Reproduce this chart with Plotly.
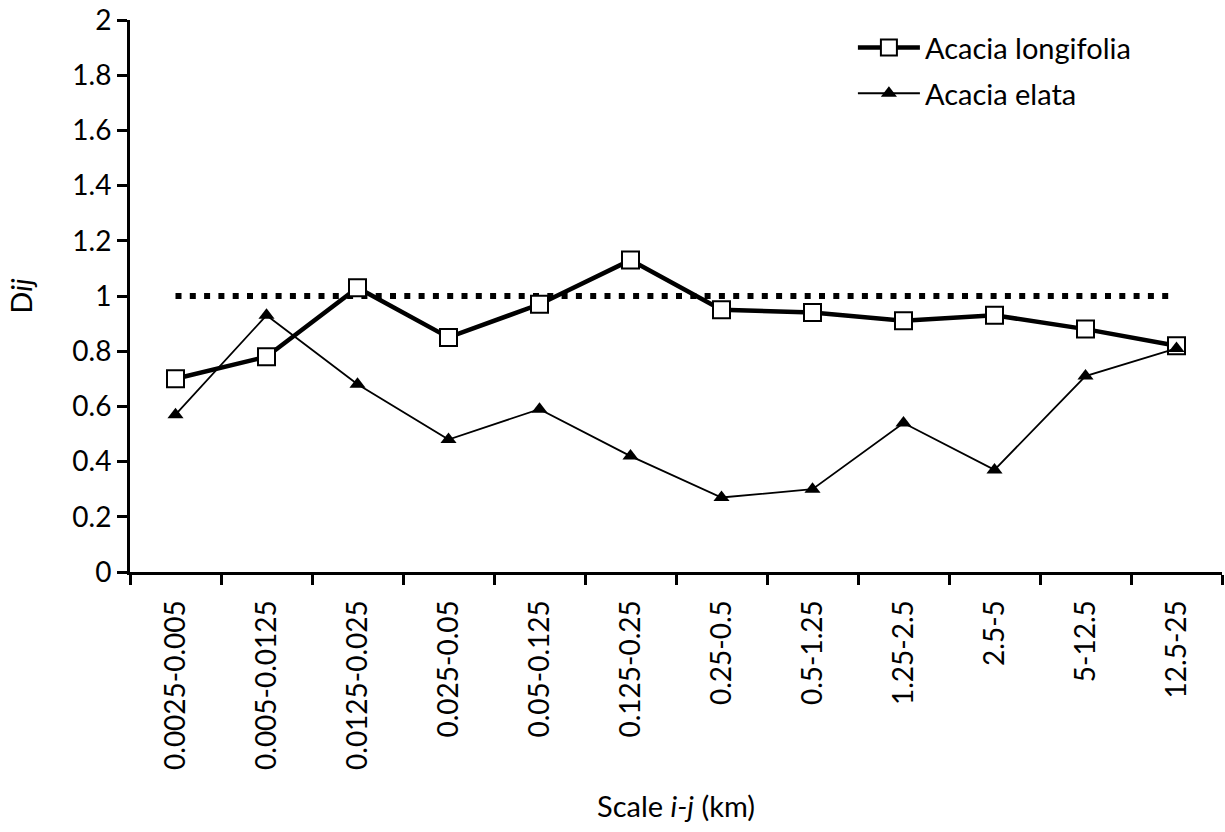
import plotly.graph_objects as go

categories = ["0.0025-0.005", "0.005-0.0125", "0.0125-0.025", "0.025-0.05",
              "0.05-0.125", "0.125-0.25", "0.25-0.5", "0.5-1.25",
              "1.25-2.5", "2.5-5", "5-12.5", "12.5-25"]
longifolia = [0.70, 0.78, 1.03, 0.85, 0.97, 1.13, 0.95, 0.94, 0.91, 0.93, 0.88, 0.82]
elata = [0.57, 0.93, 0.68, 0.48, 0.59, 0.42, 0.27, 0.30, 0.54, 0.37, 0.71, 0.81]
reference = [1.0] * len(categories)
y_ticks = [0, 0.2, 0.4, 0.6, 0.8, 1, 1.2, 1.4, 1.6, 1.8, 2]
y_tick_labels = ["0", "0.2", "0.4", "0.6", "0.8", "1", "1.2", "1.4", "1.6", "1.8", "2"]

FONT = "Lato"

fig = go.Figure()
fig.add_trace(go.Scatter(
    x=categories, y=reference, mode="lines", showlegend=False,
    line=dict(color="black", width=6, dash="6px,8.3px"), hoverinfo="skip"))
fig.add_trace(go.Scatter(
    x=categories, y=longifolia, mode="lines+markers", name="Acacia longifolia",
    legendgroup="a",
    line=dict(color="black", width=4.5),
    marker=dict(symbol="square", size=17, color="white",
                line=dict(color="black", width=2))))
fig.add_trace(go.Scatter(
    x=categories, y=elata, mode="lines+markers", name="Acacia elata",
    legendgroup="b",
    line=dict(color="black", width=1.8),
    marker=dict(symbol="triangle-up", size=14, color="black",
                line=dict(color="black", width=0))))

fig.update_layout(
    width=1225, height=832,
    margin=dict(l=130, r=3, t=20, b=260),
    paper_bgcolor="white", plot_bgcolor="white",
    font=dict(family=FONT, size=29, color="black"),
    legend=dict(x=0.662, y=0.996, xanchor="left", yanchor="top",
                bgcolor="rgba(0,0,0,0)", font=dict(family=FONT, size=29, color="black"),
                tracegroupgap=5, itemwidth=62),
    xaxis=dict(
        type="category", showgrid=False, zeroline=False,
        showline=True, linecolor="black", linewidth=3,
        ticks="outside", tickson="boundaries", ticklen=10, tickwidth=3, tickcolor="black",
        tickangle=-90, tickfont=dict(family=FONT, size=28, color="black"), ticklabelstandoff=14,
        range=[-0.5, len(categories) - 0.5],
        title=dict(text="Scale <i>i-j</i> (km)", font=dict(family=FONT, size=29, color="black"),
                   standoff=28),
        automargin=False,
    ),
    yaxis=dict(
        range=[0, 2], tickvals=y_ticks, ticktext=y_tick_labels,
        showgrid=False, zeroline=False,
        showline=True, linecolor="black", linewidth=3,
        ticks="outside", ticklen=10, tickwidth=3, tickcolor="black",
        tickfont=dict(family=FONT, size=28, color="black"),
        title=dict(text="D<i>ij</i>", font=dict(family=FONT, size=29, color="black"), standoff=32),
        automargin=False,
    ),
)

fig.write_html("out.html")
